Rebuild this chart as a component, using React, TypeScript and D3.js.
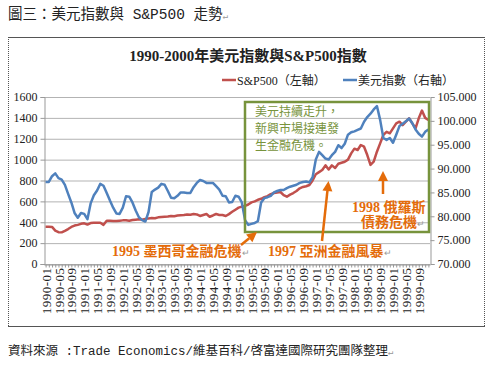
import React, { useEffect, useRef } from "react";
import * as d3 from "d3";

// months 1990-01 .. 1999-12
const years = [1990, 1991, 1992, 1993, 1994, 1995, 1996, 1997, 1998, 1999];
const monthNums = ["01", "02", "03", "04", "05", "06", "07", "08", "09", "10", "11", "12"];
const months = years.flatMap((y) => monthNums.map((m) => `${y}-${m}`));

// S&P500 (left axis), one row per year
const sp500 = [
  357, 357, 355, 320, 305, 303, 318, 335, 355, 368, 375, 385,
  390, 378, 392, 395, 395, 395, 375, 415, 415, 412, 412, 415,
  418, 420, 415, 422, 425, 428, 425, 432, 437, 440, 438, 447,
  450, 453, 455, 460, 458, 465, 468, 470, 475, 472, 479, 475,
  460, 470, 479, 453, 465, 479, 470, 469, 460, 478, 500, 520,
  540, 550, 556, 570, 590, 600, 615, 625, 640, 650, 670, 680,
  685, 690, 660, 645, 665, 680, 700, 725, 738, 745, 757, 800,
  860, 880, 900, 945, 905, 945, 920, 960, 970, 980, 1000, 1060,
  1105, 1092, 1140, 1124, 1044, 950, 980, 1076, 1156, 1236, 1267, 1252,
  1300, 1348, 1363, 1331, 1363, 1396, 1348, 1300, 1396, 1470, 1400, 1380,
];

// US dollar index (right axis), one row per year
const dollarIndex = [
  87.2, 87.2, 88.4, 89.0, 88.0, 87.7, 86.6, 84.7, 82.9, 80.7, 79.7, 80.7,
  80.5, 79.4, 82.7, 84.4, 85.4, 86.8, 86.4, 84.9, 83.3, 81.8, 80.6, 80.5,
  81.8, 84.2, 84.1, 82.9, 81.2, 79.8, 79.2, 78.9, 80.9, 85.1, 85.6, 86.0,
  86.8, 86.6, 85.3, 83.9, 83.8, 84.3, 85.0, 85.0, 84.9, 84.9, 86.1, 87.0,
  87.6, 87.4, 87.0, 87.0, 87.0, 86.3, 85.6, 84.3, 84.2, 82.9, 83.0, 84.3,
  84.1, 82.9, 79.2, 78.2, 78.4, 78.6, 79.0, 82.9, 83.8, 84.0, 84.3, 85.0,
  85.3, 85.5, 85.5, 85.9, 86.2, 86.4, 86.6, 87.0, 87.2, 87.3, 87.1, 88.2,
  91.9, 93.5, 92.8, 92.1, 91.9, 92.8, 93.5, 94.9, 94.3, 95.2, 97.1, 97.6,
  97.8, 98.1, 98.4, 99.8, 100.8, 101.5, 102.4, 103.1, 100.2, 96.4, 96.0, 96.4,
  95.4, 97.1, 98.9, 99.4, 99.9, 100.5, 99.5, 98.2, 97.3, 96.7, 97.7, 98.2,
];

const leftTicks = [0, 200, 400, 600, 800, 1000, 1200, 1400, 1600];
const rightTicks = [70, 75, 80, 85, 90, 95, 100, 105];

const seriesNames = ["S&P500（左軸）", "美元指數（右軸）"];
const boxLines = ["美元持續走升，", "新興市場接連發", "生金融危機。"];

const RED = "#C0504D";
const BLUE = "#4F81BD";
const ORANGE = "#E46C0A";
const GREEN = "#77933C";
const serif = "'Liberation Serif', 'Noto Sans CJK TC', serif";
const mono = "'Liberation Mono', 'Noto Sans CJK TC', monospace";

const App = () => {
  const svgRef = useRef<SVGSVGElement>(null);

  useEffect(() => {
    document.body.style.margin = "0";
    const svg = d3.select(svgRef.current);
    svg.selectAll("*").remove();

    const plot = { left: 44, right: 430, top: 97, bottom: 264 };

    const x = d3.scalePoint<string>().domain(months).range([plot.left, plot.right]).padding(0.5);
    const yL = d3.scaleLinear().domain([0, 1600]).range([plot.bottom, plot.top]);
    const yR = d3.scaleLinear().domain([70, 105]).range([plot.bottom, plot.top]);

    const retMark = (el: any) =>
      el.append("tspan").style("font-size", "9px").style("font-weight", "normal").style("fill", "#999").text("↵");

    // caption above the chart
    const cap = svg.append("text").attr("x", 8).attr("y", 19)
      .style("font-family", mono).style("font-size", "14.5px").style("fill", "#222");
    cap.append("tspan").text("圖三：美元指數與 S&P500 走勢");
    retMark(cap);

    // chart frame
    svg.append("line").attr("x1", 8).attr("x2", 485).attr("y1", 37.5).attr("y2", 37.5).style("stroke", "#555");
    svg.append("line").attr("x1", 8).attr("x2", 485).attr("y1", 326.5).attr("y2", 326.5).style("stroke", "#555");
    svg.append("line").attr("x1", 8.5).attr("x2", 8.5).attr("y1", 37).attr("y2", 327)
      .style("stroke", "#555").style("stroke-dasharray", "1,1");
    svg.append("line").attr("x1", 484.5).attr("x2", 484.5).attr("y1", 37).attr("y2", 327)
      .style("stroke", "#555").style("stroke-dasharray", "1,1");

    // title
    svg.append("text").attr("x", 248).attr("y", 61).attr("text-anchor", "middle")
      .style("font-family", serif).style("font-size", "15px").style("font-weight", "bold").style("fill", "#222")
      .text("1990-2000年美元指數與S&P500指數");

    // legend
    const legend = svg.append("g").attr("transform", "translate(222,80)");
    [RED, BLUE].forEach((c, i) => {
      const lx = i === 0 ? 0 : 121;
      legend.append("line").attr("x1", lx).attr("x2", lx + 14).attr("y1", 0).attr("y2", 0)
        .style("stroke", c).style("stroke-width", 2.5);
      legend.append("text").attr("x", lx + 15).attr("y", 4.5)
        .style("font-family", serif).style("font-size", "12px").style("fill", "#222")
        .text(seriesNames[i]);
    });

    // gridlines
    svg.append("g").selectAll("line").data(leftTicks).enter().append("line")
      .attr("x1", plot.left).attr("x2", plot.right)
      .attr("y1", (d) => yL(d) + 0.5).attr("y2", (d) => yL(d) + 0.5)
      .style("stroke", "#B3B3B3");

    // left axis
    const gl = svg.append("g").attr("transform", `translate(${plot.left + 0.5},0)`)
      .call(d3.axisLeft(yL).tickValues(leftTicks).tickSize(4).tickPadding(3).tickFormat(d3.format("d")));
    gl.select(".domain").style("stroke", "#999");
    gl.selectAll(".tick line").style("stroke", "#999");
    gl.selectAll("text").style("font-family", serif).style("font-size", "12px").style("fill", "#222");

    // right axis
    const gr = svg.append("g").attr("transform", `translate(${plot.right + 0.5},0)`)
      .call(d3.axisRight(yR).tickValues(rightTicks).tickSize(4).tickPadding(3).tickFormat(d3.format(".3f")));
    gr.select(".domain").style("stroke", "#999");
    gr.selectAll(".tick line").style("stroke", "#999");
    gr.selectAll("text").style("font-family", serif).style("font-size", "12px").style("fill", "#222");

    // bottom axis, every month ticked, every 4th labelled
    const gb = svg.append("g").attr("transform", `translate(0,${plot.bottom + 0.5})`)
      .call(d3.axisBottom(x).tickSize(3).tickSizeOuter(0)
        .tickFormat((d, i) => (i % 4 === 0 ? d : "")));
    gb.select(".domain").style("stroke", "#999");
    gb.selectAll(".tick line").style("stroke", "#999");
    gb.selectAll("text")
      .attr("transform", "rotate(-90)")
      .attr("x", -3).attr("y", 0).attr("dy", "0.35em")
      .style("text-anchor", "end")
      .style("letter-spacing", "0.5px")
      .style("font-family", serif).style("font-size", "13px").style("fill", "#222");

    // lines
    const redLine = d3.line<number>().x((d, i) => x(months[i])!).y((d) => yL(d));
    const blueLine = d3.line<number>().x((d, i) => x(months[i])!).y((d) => yR(d));
    svg.append("path").datum(sp500).attr("d", redLine)
      .style("fill", "none").style("stroke", RED).style("stroke-width", 2.5).style("stroke-linejoin", "round");
    svg.append("path").datum(dollarIndex).attr("d", blueLine)
      .style("fill", "none").style("stroke", BLUE).style("stroke-width", 2.5).style("stroke-linejoin", "round");

    // green box
    svg.append("rect").attr("x", 245).attr("y", 102).attr("width", 184).attr("height", 130)
      .style("fill", "none").style("stroke", GREEN).style("stroke-width", 2.5);
    boxLines.forEach((t, i) => {
      svg.append("text").attr("x", 255).attr("y", 116 + i * 17)
        .style("font-family", serif).style("font-size", "12px").style("fill", GREEN).text(t);
    });

    // orange annotations
    const note = (tx: number, ty: number, t: string, ret: boolean) => {
      const el = svg.append("text").attr("x", tx).attr("y", ty)
        .style("font-family", serif).style("font-size", "14px").style("font-weight", "bold").style("fill", ORANGE);
      el.append("tspan").text(t);
      if (ret) retMark(el);
    };
    note(112, 256, "1995 墨西哥金融危機", true);
    note(268, 256, "1997 亞洲金融風暴", true);
    note(352, 212, "1998 俄羅斯", false);
    note(361, 227, "債務危機", true);

    const arrow = (x1: number, y1: number, x2: number, y2: number) => {
      const a = Math.atan2(y2 - y1, x2 - x1);
      const len = 10, half = 5;
      const bx = x2 - len * Math.cos(a), by = y2 - len * Math.sin(a);
      svg.append("line").attr("x1", x1).attr("y1", y1).attr("x2", bx).attr("y2", by)
        .style("stroke", ORANGE).style("stroke-width", 2.5);
      const pts = [
        [x2, y2],
        [bx + half * Math.sin(a), by - half * Math.cos(a)],
        [bx - half * Math.sin(a), by + half * Math.cos(a)],
      ];
      svg.append("polygon").attr("points", pts.map((p) => p.join(",")).join(" ")).style("fill", ORANGE);
    };
    arrow(241, 245, 257, 232);
    arrow(322, 241, 328.5, 181);
    arrow(383, 194, 383, 171);

    // source
    const src = svg.append("text").attr("x", 8).attr("y", 355)
      .style("font-family", mono).style("font-size", "12.5px").style("fill", "#222");
    src.append("tspan").text("資料來源 :Trade Economics/維基百科/啓富達國際研究團隊整理");
    retMark(src);
  }, []);

  return <svg ref={svgRef} width={487} height={366} style={{ display: "block" }}></svg>;
};

export default App;
